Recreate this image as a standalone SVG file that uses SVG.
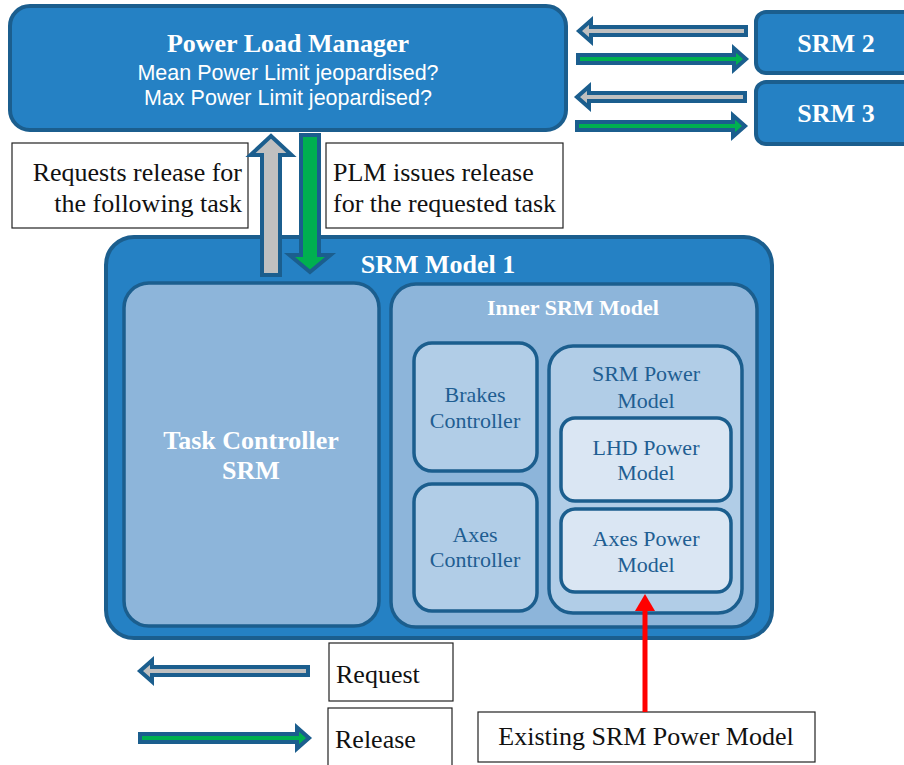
<svg xmlns="http://www.w3.org/2000/svg" width="904" height="765" viewBox="0 0 904 765">
<defs>
<style>
.blue{fill:#2581C4;stroke:#1B5E8E;stroke-width:4}
.mid{fill:#8DB5DA;stroke:#1B5E8E;stroke-width:3.5}
.light{fill:#B1CDE7;stroke:#1B5E8E;stroke-width:3.5}
.lightest{fill:#DAE6F3;stroke:#1B5E8E;stroke-width:3.5}
.box{fill:#fff;stroke:#222;stroke-width:1.2}
.ser{font-family:"Liberation Serif","Times New Roman",serif}
.san{font-family:"Liberation Sans",Arial,sans-serif}
.wb{fill:#fff;font-weight:bold}
.dk{fill:#1F5E92;font-size:22px}
.bk{fill:#111;font-size:26px}
.req{fill:#C0C0C0;stroke:#1B5E8E;stroke-width:4;stroke-linejoin:miter}
.rel{fill:#00B050;stroke:#1B5E8E;stroke-width:4;stroke-linejoin:miter}
</style>
</defs>
<g id="plm">
<rect class="blue" x="10" y="6" width="556" height="124" rx="20"/>
<text class="ser wb" x="288" y="52" font-size="26" text-anchor="middle">Power Load Manager</text>
<text class="san" x="288" y="80" font-size="21.5" fill="#fff" text-anchor="middle">Mean Power Limit jeopardised?</text>
<text class="san" x="288" y="105" font-size="21.5" fill="#fff" text-anchor="middle">Max Power Limit jeopardised?</text>
</g>
<g id="srm2">
<rect class="blue" x="756" y="12" width="160" height="61" rx="10"/>
<text class="ser wb" x="836" y="52" font-size="26" text-anchor="middle">SRM 2</text>
</g>
<g id="srm3">
<rect class="blue" x="756" y="82" width="160" height="62" rx="10"/>
<text class="ser wb" x="836" y="122" font-size="26" text-anchor="middle">SRM 3</text>
</g>
<g id="req-note">
<rect class="box" x="12" y="143" width="236" height="85"/>
<text class="ser bk" x="242" y="181" text-anchor="end">Requests release for</text>
<text class="ser bk" x="242" y="212" text-anchor="end">the following task</text>
</g>
<g id="rel-note">
<rect class="box" x="326" y="143" width="237" height="85"/>
<text class="ser bk" x="333" y="181">PLM issues release</text>
<text class="ser bk" x="333" y="212">for the requested task</text>
</g>
<g id="srm1">
<rect class="blue" x="106" y="237" width="666" height="401" rx="28"/>
<text class="ser wb" x="438" y="273" font-size="26" text-anchor="middle">SRM Model 1</text>
</g>
<g id="task-controller">
<rect class="mid" x="124" y="283" width="255" height="343" rx="25"/>
<text class="ser wb" x="251" y="449" font-size="26" text-anchor="middle">Task Controller</text>
<text class="ser wb" x="251" y="479" font-size="26" text-anchor="middle">SRM</text>
</g>
<g id="inner-srm">
<rect class="mid" x="391" y="284" width="366" height="343" rx="25"/>
<text class="ser wb" x="573" y="315" font-size="22" text-anchor="middle">Inner SRM Model</text>
</g>
<g id="brakes">
<rect class="light" x="414" y="343" width="123" height="128" rx="18"/>
<text class="ser dk" x="475" y="402" text-anchor="middle">Brakes</text>
<text class="ser dk" x="475" y="428" text-anchor="middle">Controller</text>
</g>
<g id="axes-controller">
<rect class="light" x="414" y="484" width="123" height="127" rx="18"/>
<text class="ser dk" x="475" y="542" text-anchor="middle">Axes</text>
<text class="ser dk" x="475" y="567" text-anchor="middle">Controller</text>
</g>
<g id="srm-power">
<rect class="light" x="549" y="346" width="193" height="267" rx="24"/>
<text class="ser dk" x="646" y="381" text-anchor="middle">SRM Power</text>
<text class="ser dk" x="646" y="408" text-anchor="middle">Model</text>
</g>
<g id="lhd-power">
<rect class="lightest" x="561" y="418" width="170" height="83" rx="14"/>
<text class="ser dk" x="646" y="455" text-anchor="middle">LHD Power</text>
<text class="ser dk" x="646" y="480" text-anchor="middle">Model</text>
</g>
<g id="axes-power">
<rect class="lightest" x="561" y="509" width="170" height="83" rx="14"/>
<text class="ser dk" x="646" y="546" text-anchor="middle">Axes Power</text>
<text class="ser dk" x="646" y="572" text-anchor="middle">Model</text>
</g>
<g id="existing">
<rect class="box" x="478" y="712" width="337" height="50"/>
<text class="ser bk" x="646" y="745" text-anchor="middle">Existing SRM Power Model</text>
</g>
<g id="legend-request">
<rect class="box" x="329" y="643" width="124" height="58"/>
<text class="ser bk" x="336" y="683">Request</text>
</g>
<g id="legend-release">
<rect class="box" x="328" y="708" width="124" height="60"/>
<text class="ser bk" x="335" y="748">Release</text>
</g>
<g id="connectors">
<polygon class="req" points="579,31 591,20.5 591,27 746,27 746,35 591,35 591,41.5"/>
<polygon class="rel" points="746,59 734,48.5 734,55 578,55 578,63 734,63 734,69.5"/>
<polygon class="req" points="577,97 589,86.5 589,93 745,93 745,101 589,101 589,107.5"/>
<polygon class="rel" points="745,126 733,115.5 733,122 577,122 577,130 733,130 733,136.5"/>
<polygon class="req" points="271,136 250.5,155 262,155 262,275 280,275 280,155 291.5,155"/>
<polygon class="rel" points="310,272 289.5,255 301,255 301,135 319,135 319,255 330.5,255"/>
<polygon class="req" points="140,671 152,660.5 152,667 308,667 308,675 152,675 152,681.5"/>
<polygon class="rel" points="309,738 297,727.5 297,734 140,734 140,742 297,742 297,748.5"/>
<line x1="645" y1="712" x2="645" y2="610" stroke="#F00" stroke-width="5"/>
<polygon points="645,594 635,611 655,611" fill="#F00"/>
</g>
</svg>
